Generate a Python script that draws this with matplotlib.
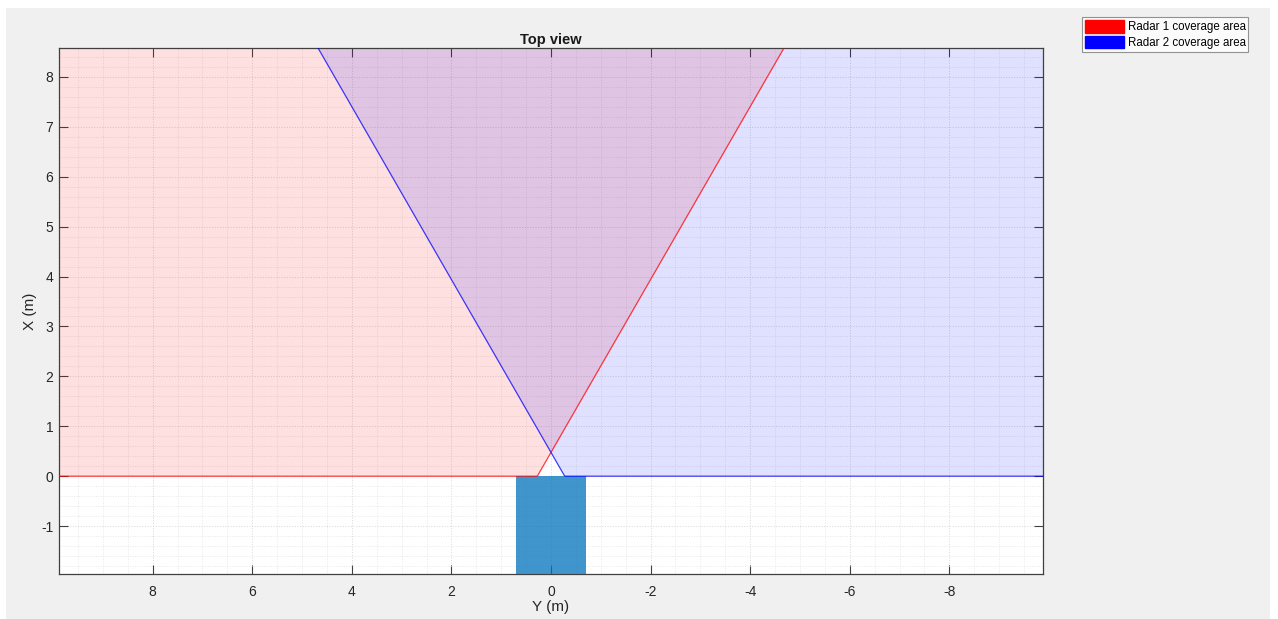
"""Top view of the two corner-radar coverage areas in front of the vehicle."""
import matplotlib

matplotlib.use("Agg")
import matplotlib.pyplot as plt  # noqa: E402
import numpy as np  # noqa: E402
from matplotlib.patches import Patch, Polygon, Rectangle  # noqa: E402
from matplotlib.ticker import MultipleLocator  # noqa: E402

plt.rcParams["font.family"] = ["Liberation Sans", "DejaVu Sans"]
plt.rcParams["axes.unicode_minus"] = False

# --- data -----------------------------------------------------------
radar_names = ["Radar 1 coverage area", "Radar 2 coverage area"]
radar_colors = ["#FF0000", "#0000FF"]
radar_y = [0.275, -0.275]          # mounting position, lateral (m)
radar_x = [0.0, 0.0]               # mounting position, longitudinal (m)
az_min = [-30.0, -90.0]            # deg, measured from +X towards +Y
az_max = [90.0, 30.0]
max_range = 25.0                   # m (clipped by the axes)

veh_half_width = 0.71
veh_front = 0.0
veh_length = 4.7

xlim = (9.88, -9.88)               # Y axis is reversed
ylim = (-1.96, 8.58)
xticks = np.arange(-8, 9, 2)
yticks = np.arange(-1, 9, 1)

# --- figure ---------------------------------------------------------
fig = plt.figure(figsize=(12.78, 6.19), dpi=100, facecolor="white")
fig.patches.append(Rectangle((6 / 1278, 0), 1264 / 1278, 611 / 619,
                             transform=fig.transFigure, facecolor="#F0F0F0",
                             edgecolor="none", zorder=-10))
ax = fig.add_axes([59 / 1278, 1 - 574 / 619, 984 / 1278, 526 / 619])
ax.set_facecolor("white")

# vehicle body
ax.add_patch(Rectangle((-veh_half_width, veh_front - veh_length),
                       2 * veh_half_width, veh_length,
                       facecolor="#0072BD", alpha=0.75, edgecolor="none",
                       zorder=3))

# coverage wedges
for y0, x0, a0, a1, col in zip(radar_y, radar_x, az_min, az_max, radar_colors):
    az = np.deg2rad(np.linspace(a0, a1, 120))
    py = np.r_[y0, y0 + max_range * np.sin(az), y0]
    px = np.r_[x0, x0 + max_range * np.cos(az), x0]
    ax.add_patch(Polygon(np.c_[py, px], closed=True, facecolor=col,
                         alpha=0.12, edgecolor="none", zorder=2))
    ax.add_patch(Polygon(np.c_[py, px], closed=True, facecolor="none",
                         edgecolor=col, lw=0.9, alpha=0.75, zorder=4))

ax.set_xlim(*xlim)
ax.set_ylim(*ylim)
ax.set_xticks(xticks)
ax.set_yticks(yticks)
ax.xaxis.set_minor_locator(MultipleLocator(0.5))
ax.yaxis.set_minor_locator(MultipleLocator(0.2))
ax.grid(which="major", color="#D4D4D4", ls=(0, (1.5, 2)), lw=0.55)
ax.grid(which="minor", color="#E2E2E2", ls=(0, (1.5, 2)), lw=0.5)
for ln in ax.get_xgridlines() + ax.get_ygridlines():
    ln.set_zorder(2.5)
ax.tick_params(which="major", direction="in", length=6.5, width=0.8,
               top=True, right=True, labelsize=10, colors="#404040",
               labelcolor="#262626")
ax.tick_params(axis="x", which="major", pad=8)
ax.tick_params(axis="y", which="major", pad=4)
ax.tick_params(which="minor", length=0, top=True, right=True)
for sp in ax.spines.values():
    sp.set_color("#404040")
    sp.set_linewidth(0.9)

ax.set_title("Top view", fontsize=10.5, fontweight="bold", color="#1a1a1a", pad=3)
ax.set_xlabel("Y (m)", fontsize=11, color="#262626", labelpad=1)
ax.set_ylabel("X (m)", fontsize=11, color="#262626", labelpad=3)

handles = [Patch(facecolor=c, edgecolor=c, label=n)
           for c, n in zip(radar_colors, radar_names)]
leg = fig.legend(handles=handles, loc="upper left",
                 bbox_to_anchor=(1082 / 1278, 1 - 17 / 619), fontsize=8.3,
                 frameon=True, fancybox=False, handlelength=3.4,
                 handleheight=1.35, handletextpad=0.3, borderpad=0.25,
                 labelspacing=0.2, borderaxespad=0)
leg.get_frame().set_edgecolor("#7a7a7a")
leg.get_frame().set_linewidth(0.8)

fig.savefig("out.png", dpi=100, facecolor=fig.get_facecolor())
